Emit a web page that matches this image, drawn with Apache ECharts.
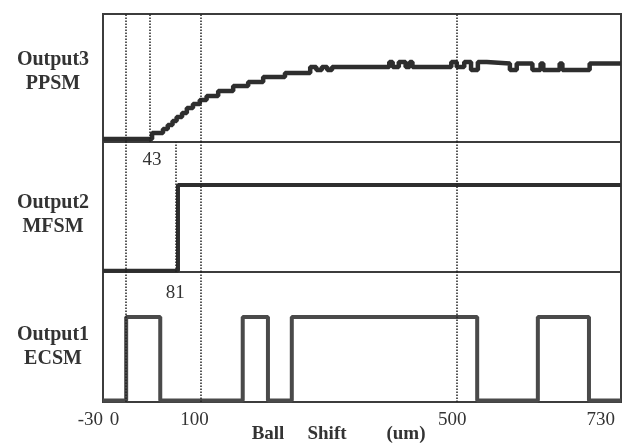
<!DOCTYPE html>
<html>
<head>
<meta charset="utf-8">
<script src="https://cdn.jsdelivr.net/npm/echarts@6/dist/echarts.min.js"></script>
<style>html,body{margin:0;padding:0;background:#fff}#c{width:629px;height:445px}</style>
</head>
<body>
<div id="c"></div>
<script>
// ---- data (x in um, y in arbitrary panel units 0-100) ----
const xTickLabels = [-30, 0, 100, 500, 730];
const ppsmX = [-30, 42, 58, 65, 72, 78, 86, 93, 102, 112, 122, 139, 161, 183, 205, 237, 274, 283, 291, 299, 306, 390, 395, 404, 414, 420, 424, 481, 489, 500, 510, 520, 533, 567, 577, 600, 612, 616, 640, 644, 684, 730];
const ppsmY = [2.3, 7, 10.2, 13.3, 16.4, 19.5, 22.7, 26.6, 29.7, 32.8, 35.9, 39.8, 43.8, 46.9, 50.8, 53.9, 58.6, 56.3, 58.6, 56.3, 58.6, 62.5, 58.6, 62.5, 58.6, 62.5, 58.6, 62.5, 58.6, 62.5, 56.3, 62.5, 61.3, 56.3, 61.3, 56.3, 61.3, 56.3, 61.3, 56.3, 61.3, 61.3];
const mfsmX = [-30, 80, 730];
const mfsmY = [1, 67, 67];
const ecsmX = [-30, 4, 54, 175, 212, 247, 519, 608, 683, 730];
const ecsmY = [1.2, 65.4, 1.2, 65.4, 1.2, 65.4, 1.2, 65.4, 1.2, 1.2];
const markX1 = [4, 39, 114, 489];   // dotted guides, top panel
const markX2 = [4, 77, 114, 489];   // middle panel
const markX3 = [4, 114, 489];       // bottom panel
const annot43 = [42, 86, '43'];
const annot81 = [76, 84, '81'];
const panelNames = ['Output3\nPPSM', 'Output2\nMFSM', 'Output1\nECSM'];
const axisTitle = ['Ball', 'Shift', '(um)'];

const zip = (xs, ys) => xs.map((x, i) => [x, ys[i]]);
const serif = '"Liberation Serif", "Times New Roman", serif';
const ink = '#333';

const grids = [
  {left: 103, width: 518, top: 14, height: 128},
  {left: 103, width: 518, top: 142, height: 130},
  {left: 103, width: 518, top: 272, height: 130}
].map(g => Object.assign(g, {show: true, borderColor: '#3c3c3c', borderWidth: 2, backgroundColor: 'transparent'}));

// small label nudges matching the hand-lettered original
const labelStyleKey = {'-30': 'm', '0': 'z', '100': 'h', '500': 'f', '730': 's'};
const labelRich = {
  m: {padding: [0, 0, 0, 0]},
  z: {padding: [0, 18, 0, 0]},
  h: {padding: [0, 0, 0, 6]},
  f: {padding: [0, 24, 0, 0]},
  s: {padding: [0, 6, 0, 0]}
};
Object.values(labelRich).forEach(r => Object.assign(r, {fontFamily: serif, fontSize: 19, color: ink}));

const xAxes = [0, 1, 2].map(i => ({
  type: 'value', gridIndex: i, min: -30, max: 730,
  axisLine: {show: false}, axisTick: {show: false}, splitLine: {show: false},
  axisLabel: i === 2 ? {
    show: true, customValues: xTickLabels, fontFamily: serif, fontSize: 19, color: ink, margin: 9,
    alignMinLabel: 'right', alignMaxLabel: 'right',
    formatter: v => '{' + (labelStyleKey[String(v)] || 'm') + '|' + v + '}',
    rich: labelRich
  } : {show: false}
}));
const yAxes = [0, 1, 2].map(i => ({
  type: 'value', gridIndex: i, min: 0, max: 100, show: false
}));

function guides(xs) {
  return {
    silent: true, symbol: 'none', label: {show: false},
    lineStyle: {type: 'dotted', color: '#222', width: 1.5},
    data: xs.map(v => ({xAxis: v}))
  };
}
function annot(a) {
  return {
    symbol: 'circle', symbolSize: 0, silent: true,
    label: {show: true, position: 'inside', formatter: a[2], fontFamily: serif, fontSize: 19, color: ink},
    data: [{coord: [a[0], a[1]]}]
  };
}

const series = [
  {type: 'line', xAxisIndex: 0, yAxisIndex: 0, step: 'end', showSymbol: false, clip: false,
   lineStyle: {color: '#2e2e2e', width: 4.5}, data: zip(ppsmX, ppsmY), markLine: guides(markX1)},
  {type: 'line', xAxisIndex: 1, yAxisIndex: 1, step: 'end', showSymbol: false, clip: false,
   lineStyle: {color: '#2e2e2e', width: 4}, data: zip(mfsmX, mfsmY), markLine: guides(markX2), markPoint: annot(annot43)},
  {type: 'line', xAxisIndex: 2, yAxisIndex: 2, step: 'end', showSymbol: false, clip: false,
   lineStyle: {color: '#4a4a4a', width: 4}, data: zip(ecsmX, ecsmY), markLine: guides(markX3), markPoint: annot(annot81)}
];

const labelY = [71.5, 215, 346.5];
const graphic = panelNames.map((t, i) => ({
  type: 'text', x: 53, y: labelY[i], silent: true,
  style: {text: t, textAlign: 'center', textVerticalAlign: 'middle', align: 'center', verticalAlign: 'middle',
          font: 'bold 20px ' + serif, lineHeight: 24, fill: ink}
}));
const titleX = [268, 327, 406];
axisTitle.forEach((t, i) => graphic.push({
  type: 'text', x: titleX[i], y: 434, silent: true,
  style: {text: t, textAlign: 'center', textVerticalAlign: 'middle', align: 'center', verticalAlign: 'middle',
          font: 'bold 19px ' + serif, fill: ink}
}));

const chart = echarts.init(document.getElementById('c'), null, {renderer: 'canvas'});
chart.setOption({
  animation: false,
  backgroundColor: '#fff',
  grid: grids, xAxis: xAxes, yAxis: yAxes, series: series, graphic: graphic
});
</script>
</body>
</html>
